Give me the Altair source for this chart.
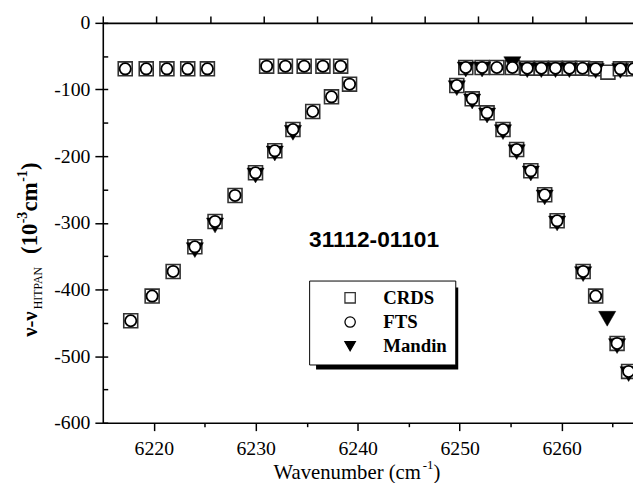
import altair as alt
import pandas as pd

series = ["CRDS", "FTS", "Mandin"]

# ---- CRDS (open squares) ----
crds_wn = [6217.20, 6219.26, 6221.29, 6223.33, 6225.26,
           6231.07, 6232.91, 6234.75, 6236.59, 6238.33,
           6217.74, 6219.84, 6221.90, 6224.03, 6226.01, 6227.97, 6229.98, 6231.87,
           6233.65, 6235.59, 6237.43, 6239.20,
           6250.60, 6252.20, 6253.65, 6255.17, 6256.63, 6258.01, 6259.40, 6260.76,
           6262.05, 6263.34, 6264.54, 6265.76, 6267.05,
           6249.72, 6251.23, 6252.69, 6254.25, 6255.59, 6256.98, 6258.34, 6259.56,
           6262.11, 6263.34, 6265.44, 6266.57]
crds_val = [-69, -69, -69, -69, -69,
            -65, -65, -65, -65, -65,
            -447, -410, -373, -336, -298, -259, -225, -192,
            -160, -133, -111, -92,
            -67, -67, -67, -67, -68, -68, -68, -68,
            -68, -69, -74, -69, -69,
            -94, -114, -135, -160, -190, -222, -258, -297,
            -373, -410, -481, -523]

# ---- FTS (open circles) ----
fts_wn = [6217.20, 6219.26, 6221.29, 6223.33, 6225.26,
          6231.07, 6232.91, 6234.75, 6236.59, 6238.33,
          6217.74, 6219.84, 6221.90, 6224.03, 6226.01, 6227.97, 6229.98, 6231.87,
          6233.65, 6235.59, 6237.43, 6239.20,
          6250.60, 6252.20, 6253.65, 6255.17, 6256.63, 6258.01, 6259.40, 6260.76,
          6262.05, 6263.34, 6265.76, 6267.05,
          6249.72, 6251.23, 6252.69, 6254.25, 6255.59, 6256.98, 6258.34, 6259.56,
          6262.11, 6263.34, 6265.44, 6266.57]
fts_val = [-69, -69, -69, -69, -69,
           -65, -65, -65, -65, -65,
           -447, -410, -373, -336, -298, -259, -225, -192,
           -160, -133, -111, -92,
           -67, -67, -67, -67, -68, -68, -68, -68,
           -68, -69, -69, -69,
           -94, -114, -135, -160, -190, -222, -258, -297,
           -373, -410, -481, -523]

# ---- Mandin (filled down-triangles) ----
mandin_wn = [6224.03, 6226.01, 6229.98, 6231.87, 6233.65,
             6250.60, 6252.20, 6255.17, 6256.63, 6258.01, 6259.40, 6260.76, 6263.34, 6265.76,
             6249.72, 6251.23, 6252.69, 6254.25, 6255.59, 6256.98, 6258.34, 6259.56,
             6262.11, 6264.47, 6265.44, 6266.57]
mandin_val = [-341, -304, -229, -196, -165,
              -70, -70, -62, -71, -71, -71, -71, -72, -72,
              -98, -118, -139, -164, -194, -226, -262, -301,
              -377, -444, -485, -527]

# ---- annotation ----
anno_text = ["31112-01101"]
anno_wn = [6241.6]
anno_val = [-326]

# ---- axes ----
x_major = [6220, 6230, 6240, 6250, 6260]
x_minor = [6225, 6235, 6245, 6255, 6265]
x_top = [6215, 6220.26, 6225.52, 6230.78, 6236.04, 6241.3, 6246.56, 6251.82, 6257.08, 6262.34]
y_major = [0, -100, -200, -300, -400, -500, -600]
y_all = [0, -50, -100, -150, -200, -250, -300, -350, -400, -450, -500, -550, -600]

crds_df = pd.DataFrame({"wn": crds_wn, "val": crds_val, "src": "CRDS"})
fts_df = pd.DataFrame({"wn": fts_wn, "val": fts_val, "src": "FTS"})
mandin_df = pd.DataFrame({"wn": mandin_wn, "val": mandin_val, "src": "Mandin"})
anno_df = pd.DataFrame({"t": anno_text, "wn": anno_wn, "val": anno_val})

W, H = 537, 405
xs = alt.Scale(domain=[6215, 6267], nice=False, zero=False)
ys = alt.Scale(domain=[-600, 0], nice=False, zero=False)

shape_s = alt.Scale(domain=series, range=["square", "circle", "triangle-down"])
fill_s = alt.Scale(domain=series, range=["white", "white", "black"])
stroke_s = alt.Scale(domain=series, range=["#333333", "black", "black"])
leg = alt.Legend(title=None)

ylab = "datum.value == 0 ? '0' : '-' + abs(datum.value)"


def pts(df, size, sw, xaxis, yaxis):
    return alt.Chart(df).mark_point(filled=False, size=size, strokeWidth=sw, opacity=1).encode(
        x=alt.X("wn:Q", scale=xs, axis=xaxis),
        y=alt.Y("val:Q", scale=ys, axis=yaxis),
        shape=alt.Shape("src:N", scale=shape_s, legend=leg),
        fill=alt.Fill("src:N", scale=fill_s, legend=leg),
        stroke=alt.Stroke("src:N", scale=stroke_s, legend=leg),
    )


ax_bottom = alt.Axis(orient="bottom", values=x_major, format="d", tickSize=8, title=None,
                     labelPadding=8, labelBaseline="top")
ax_left = alt.Axis(orient="left", values=y_major, labelExpr=ylab, tickSize=8, title=None,
                   labelPadding=5)
ax_bottom_minor = alt.Axis(orient="bottom", values=x_minor, tickSize=4, labels=False,
                           domain=False, title=None)
ax_left_inner = alt.Axis(orient="left", values=y_all, tickSize=5, offset=-5, labels=False,
                         domain=False, title=None)
ax_top = alt.Axis(orient="top", values=x_top, tickSize=7, labels=False, title=None)

crds = pts(crds_df, 200, 1.6, ax_bottom, ax_left)
mandin = pts(mandin_df, 300, 0.5, ax_bottom_minor, ax_left_inner)
fts = pts(fts_df, 130, 1.8, ax_top, None)

anno = alt.Chart(anno_df).mark_text(font="Liberation Sans", fontSize=23, fontWeight="bold",
                                    color="black", align="center", baseline="middle").encode(
    x=alt.X("wn:Q", scale=xs, axis=None),
    y=alt.Y("val:Q", scale=ys, axis=None),
    text="t:N",
)

shadow = alt.Chart(pd.DataFrame({"a": [0]})).mark_rect(color="black").encode(
    x=alt.value(216), x2=alt.value(360), y=alt.value(268), y2=alt.value(351)
)


def txt(t, x, y, size, weight="normal", angle=0):
    return alt.Chart(pd.DataFrame({"t": [t]})).mark_text(
        font="Liberation Serif", fontSize=size, fontWeight=weight, angle=angle,
        align="left", baseline="alphabetic", color="black"
    ).encode(x=alt.value(x), y=alt.value(y), text="t:N")


# y title pieces (rotated, reading upward)
yt = []
pos = 318
main_x, sub_x, sup_x = -67, -62, -77
for t, size, weight, xx, w in [
    ("\u03bd-\u03bd", 21, "bold", main_x, 28),
    ("HITPAN", 12, "normal", sub_x, 50),
    ("(10", 23, "bold", main_x, 31),
    ("-3", 14, "bold", sup_x, 12),
    ("cm", 23, "bold", main_x, 30),
    ("-1", 14, "bold", sup_x, 12),
    (")", 23, "bold", main_x, 8),
]:
    yt.append(txt(t, xx, pos, size, weight, 270))
    pos -= w
    if t == "HITPAN":
        pos -= 6

xt = [
    txt("Wavenumber (cm", 173, 462, 21),
    txt("-1", 324, 452, 13),
    txt(")", 335, 462, 21),
]

chart = alt.layer(shadow, crds, mandin, fts, anno, *yt, *xt).resolve_scale(
    x="shared", y="shared"
).resolve_axis(x="independent", y="independent").properties(
    width=W, height=H,
    autosize=alt.AutoSizeParams(type="none"),
    padding={"left": 96, "top": 12, "right": 0, "bottom": 58},
).configure_view(stroke=None).configure_axis(
    labelFont="Liberation Serif", labelFontSize=20, labelColor="black",
    domainColor="black", tickColor="black", domainWidth=1.6, tickWidth=1.5, grid=False,
).configure_legend(
    orient="none", legendX=209, legendY=261, fillColor="white", strokeColor="black",
    padding=8, symbolOffset=24, labelOffset=24, labelFont="Liberation Serif",
    labelFontWeight="bold", labelFontSize=19, labelColor="black", rowPadding=4.5,
    symbolSize=110, symbolStrokeWidth=1.3,
)

chart.save("out.html", embed_options={"renderer": "svg", "actions": False})
